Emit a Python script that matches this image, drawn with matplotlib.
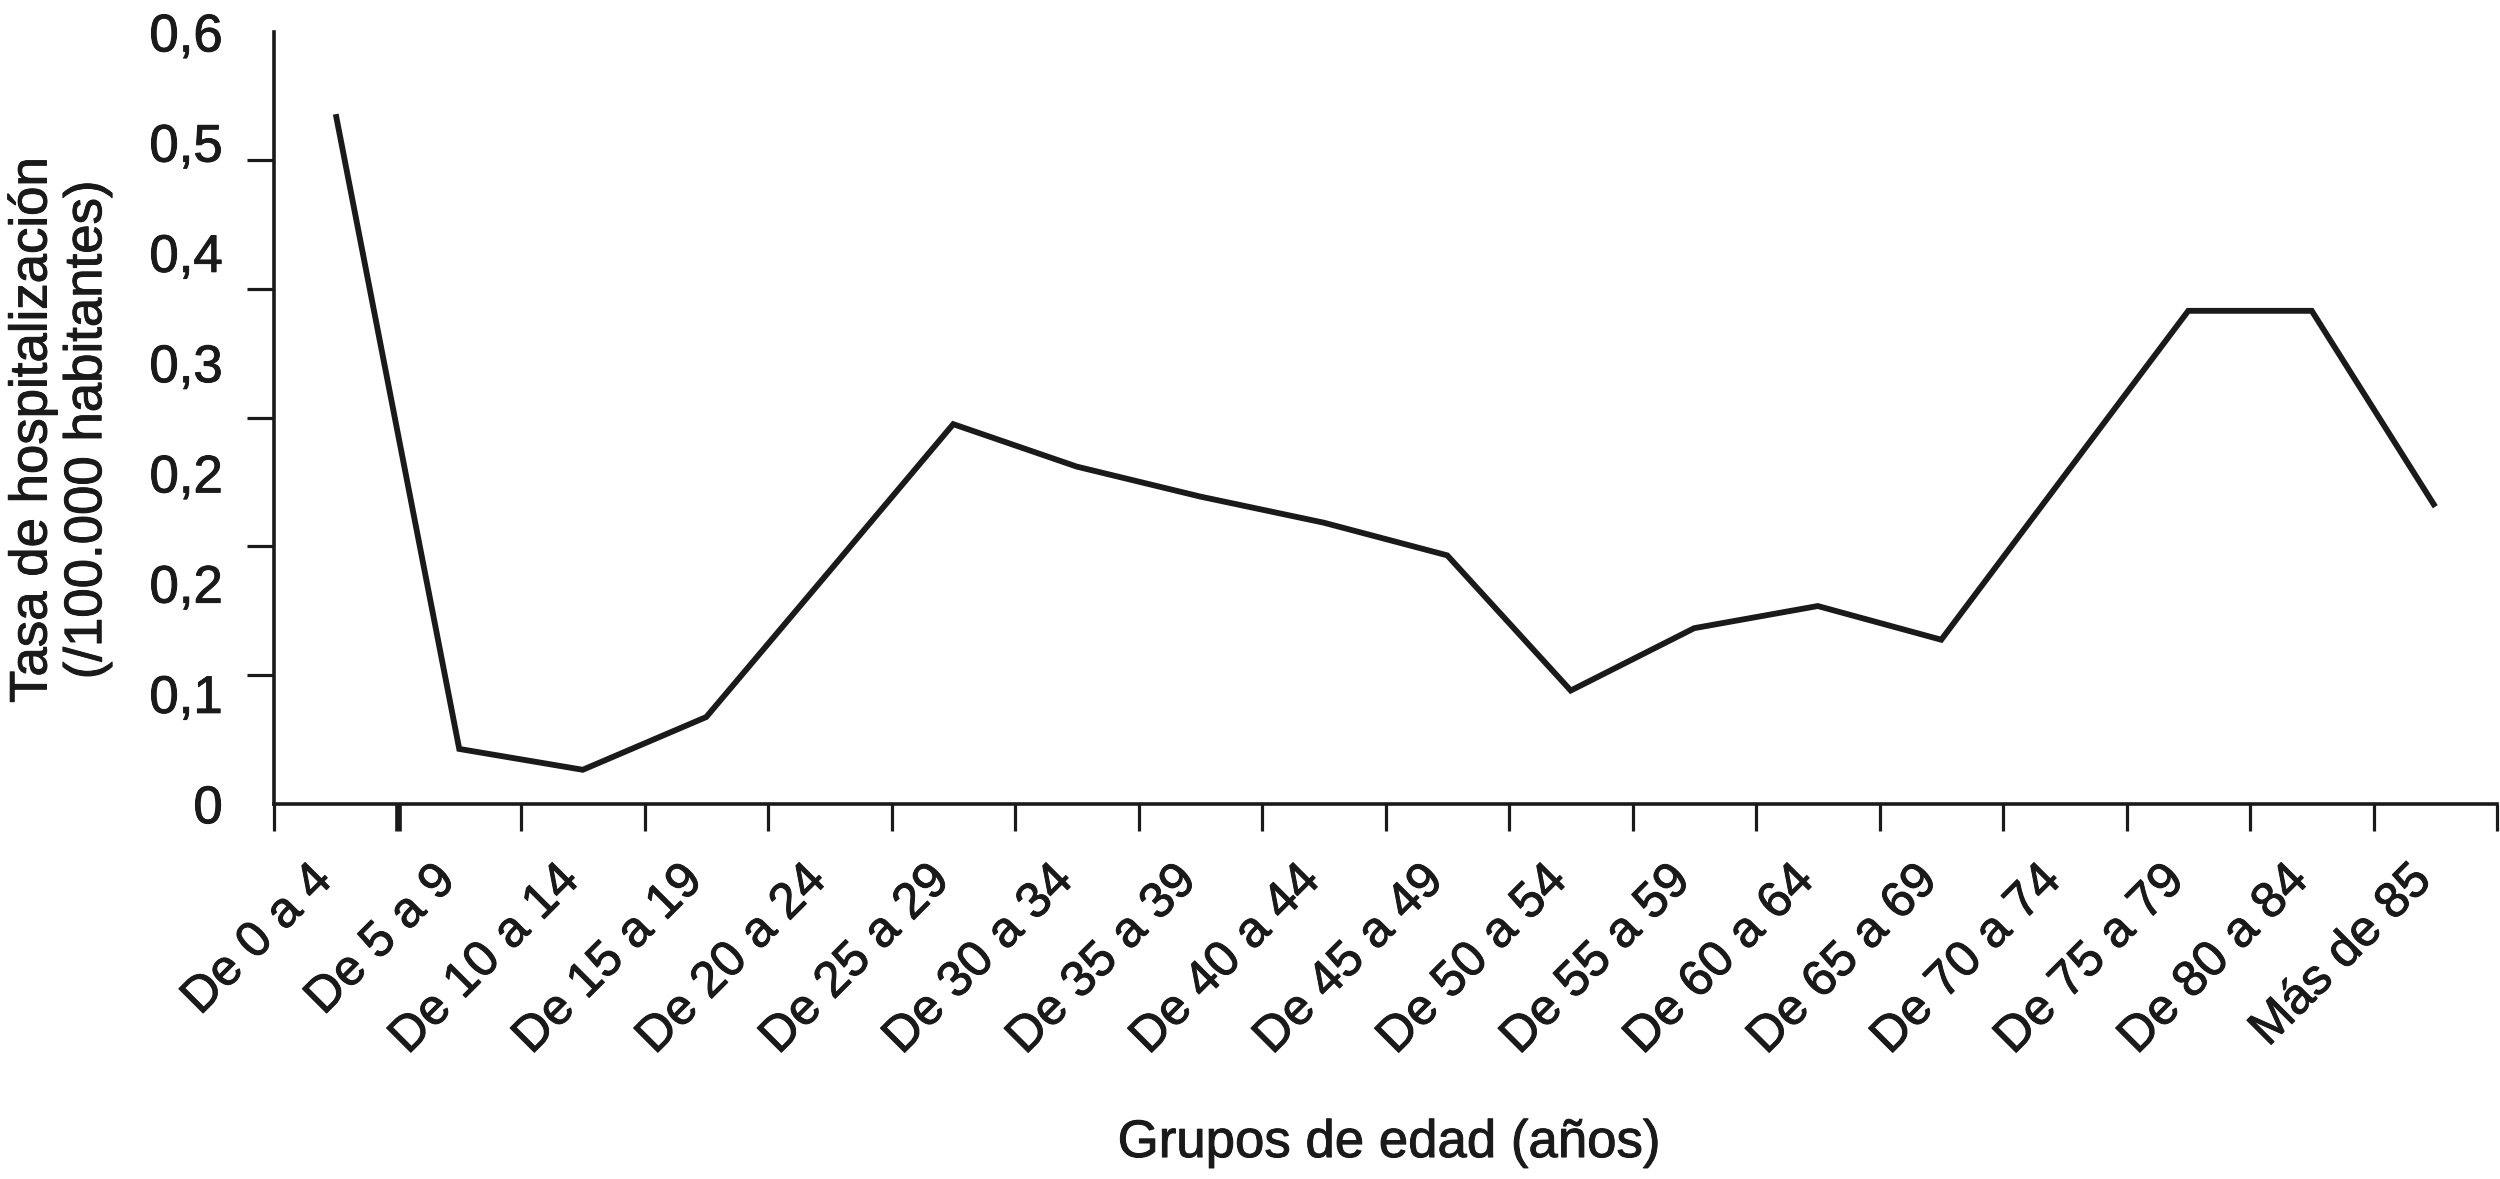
import numpy as np
import matplotlib
matplotlib.use("Agg")
import matplotlib.pyplot as plt
import matplotlib.transforms as mtransforms
import matplotlib.patheffects as pe

plt.rcParams['font.family'] = ['Liberation Sans', 'DejaVu Sans']

categories = ["De 0 a 4", "De 5 a 9", "De 10 a 14", "De 15 a 19", "De 20 a 24",
              "De 25 a 29", "De 30 a 34", "De 35 a 39", "De 40 a 44", "De 45 a 49",
              "De 50 a 54", "De 55 a 59", "De 60 a 64", "De 65 a 69", "De 70 a 74",
              "De 75 a 79", "De 80 a 84", "Más de 85"]
tasa = [0.536, 0.0425, 0.0263, 0.0673, 0.181, 0.295, 0.262, 0.2387, 0.2184,
        0.193, 0.0879, 0.1364, 0.1536, 0.1274, 0.2553, 0.3831, 0.3831, 0.2308]
ytick_values = [0, 0.1, 0.2, 0.3, 0.4, 0.5, 0.6]
ytick_labels = ["0", "0,1", "0,2", "0,2", "0,3", "0,4", "0,5", "0,6"]

ink = "#1a1a1a"
W, H, DPI = 2500, 1179, 100
fig = plt.figure(figsize=(W / DPI, H / DPI), dpi=DPI)
ax = fig.add_axes([0.1096, 0.3184, 0.8892, 0.6546])

heavy = [pe.withStroke(linewidth=0.7, foreground=ink)]

x = np.arange(len(categories))
ax.plot(x, tasa, color=ink, lw=4.2, solid_joinstyle='miter', solid_capstyle='butt',
        clip_on=False)

ax.set_xlim(-0.5, len(categories) - 0.5)
ax.set_ylim(0, 0.6)

for s in ("top", "right"):
    ax.spines[s].set_visible(False)
for s in ("left", "bottom"):
    ax.spines[s].set_linewidth(2.6)
    ax.spines[s].set_color(ink)

# y axis: tick marks at 0.1 steps, labels evenly spread as in the original
ax.set_yticks(ytick_values, minor=True)
ax.set_yticks(np.linspace(0, 0.6, len(ytick_labels)))
ax.set_yticklabels(ytick_labels, fontsize=38, color=ink)
ax.tick_params(axis='y', which='major', length=0, pad=37)
ax.tick_params(axis='y', which='minor', length=19.4, width=2.3, color=ink)

# x axis: boundary tick marks, labels
ax.set_xticks(np.arange(-0.5, len(categories)), minor=True)
ax.set_xticks(x)
ax.set_xticklabels(categories, fontsize=36, color=ink, rotation=45,
                   ha='right', va='center', rotation_mode='anchor')
ax.tick_params(axis='x', which='major', length=0, pad=50)
ax.tick_params(axis='x', which='minor', length=19.4, width=2.3, color=ink)
mt = ax.xaxis.get_minor_ticks()
mt[1].tick1line.set_markeredgewidth(4.8)
for t in mt:
    t.tick1line.set_clip_on(False)

offset = mtransforms.ScaledTranslation(-11 / DPI, 0, fig.dpi_scale_trans)
for lab in ax.get_xticklabels():
    lab.set_transform(lab.get_transform() + offset)
    lab.set_path_effects(heavy)
for lab in ax.get_yticklabels():
    lab.set_path_effects(heavy)

fig.text(0.0028, 0.635, "Tasa de hospitalización\n(/100.000 habitantes)",
         rotation=90, ha='left', va='center', multialignment='center',
         fontsize=38, color=ink, linespacing=1.12, path_effects=heavy)
fig.text(0.5556, 0.0305, "Grupos de edad (años)", ha='center', va='center',
         fontsize=38, color=ink, path_effects=heavy)

fig.savefig("out.png", dpi=DPI, facecolor="white")
